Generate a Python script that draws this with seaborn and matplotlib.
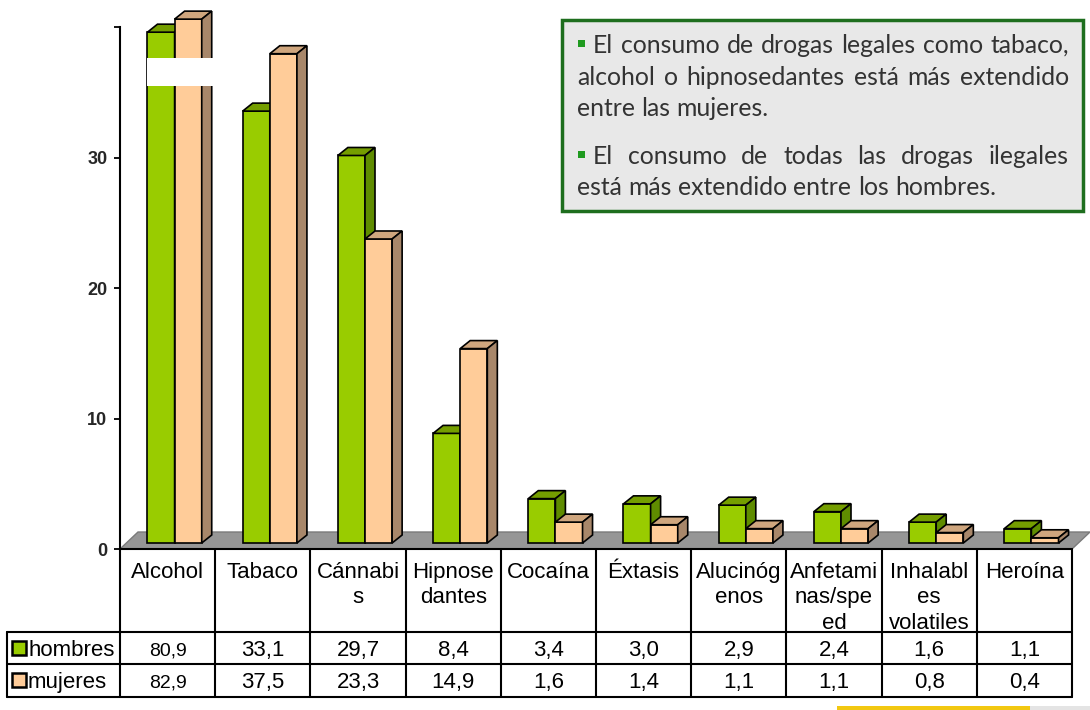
import matplotlib
matplotlib.use("Agg")
import matplotlib.pyplot as plt
import matplotlib.transforms as mtransforms
from matplotlib.patches import Polygon, Rectangle
from matplotlib.lines import Line2D
import pandas as pd
import seaborn as sns

sustancias = ["Alcohol", "Tabaco", "Cánnabis", "Hipnosedantes", "Cocaína", "Éxtasis",
              "Alucinógenos", "Anfetaminas/speed", "Inhalables volatiles", "Heroína"]
etiquetas = ["Alcohol", "Tabaco", "Cánnabi\ns", "Hipnose\ndantes", "Cocaína", "Éxtasis",
             "Alucinóg\nenos", "Anfetami\nnas/spe\ned", "Inhalabl\nes\nvolatiles", "Heroína"]
sexos = ["hombres", "mujeres"]
hombres = [80.9, 33.1, 29.7, 8.4, 3.4, 3.0, 2.9, 2.4, 1.6, 1.1]
mujeres = [82.9, 37.5, 23.3, 14.9, 1.6, 1.4, 1.1, 1.1, 0.8, 0.4]
yticks = [0, 10, 20, 30, 40]
ytick_labels = ["0", "10", "20", "30", ""]

parrafos = [
    ["El consumo de drogas legales como tabaco,",
     "alcohol o hipnosedantes está más extendido",
     "entre las mujeres."],
    ["El consumo de todas las drogas ilegales",
     "está más extendido entre los hombres."],
]

frente = {"hombres": "#99cc00", "mujeres": "#ffcc99"}
arriba = {"hombres": "#759e00", "mujeres": "#cfa67e"}
lado = {"hombres": "#5f8c00", "mujeres": "#a8876a"}


def altura(v):
    # eje cortado: lo que pasa de 40 se comprime
    return v if v <= 40 else 38.7 + (v - 80) * 0.5


def fmt(v):
    return f"{v:.1f}".replace(".", ",")


df = pd.DataFrame({
    "sustancia": sustancias * 2,
    "sexo": ["hombres"] * len(hombres) + ["mujeres"] * len(mujeres),
    "valor": hombres + mujeres,
})
df["altura"] = df["valor"].map(altura)

sns.set_theme(style="white")
plt.rcParams["font.family"] = ["Liberation Sans", "DejaVu Sans"]

W, H = 1090, 710
fig = plt.figure(figsize=(W / 100, H / 100), dpi=100)
ax = fig.add_axes([120 / W, 1 - 549 / H, 952 / W, 548 / H])


def fx(px):
    return px / W


def fy(px):
    return 1 - px / H


sns.barplot(data=df, x="sustancia", y="altura", hue="sexo", hue_order=sexos,
            palette=frente, width=0.57, saturation=1, legend=False,
            edgecolor="black", linewidth=1.2, ax=ax)
ax.set_xlim(-0.5, 9.5)
ax.set_ylim(0, 42)

sx = 952 / 10
sy = 548 / 42

# suelo gris
fdx, fdy = 18 / sx, 17 / sy
ax.add_patch(Polygon([(-0.5, 0), (9.5, 0), (9.5 + fdx, fdy), (-0.5 + fdx, fdy)],
                     closed=True, fc="#969696", ec="#7a7a7a", lw=1, zorder=1, clip_on=False))

# barras en 3D
tr = ax.transData + mtransforms.ScaledTranslation(7 / 100, 6 / 100, fig.dpi_scale_trans)
dx, dy = 10 / sx, 8 / sy
n = len(sustancias)
barras = [p for p in ax.patches if isinstance(p, Rectangle)][:2 * n]
for i, p in enumerate(barras):
    g = sexos[i // n]
    x0, w, h = p.get_x(), p.get_width(), p.get_height()
    z = 3 + i // n
    p.set_transform(tr)
    p.set_clip_on(False)
    p.set_zorder(z)
    ax.add_patch(Polygon([(x0, h), (x0 + dx, h + dy), (x0 + w + dx, h + dy), (x0 + w, h)],
                         closed=True, fc=arriba[g], ec="black", lw=1.2,
                         transform=tr, zorder=z, clip_on=False))
    ax.add_patch(Polygon([(x0 + w, 0), (x0 + w, h), (x0 + w + dx, h + dy), (x0 + w + dx, dy)],
                         closed=True, fc=lado[g], ec="black", lw=1.2,
                         transform=tr, zorder=z, clip_on=False))

# corte del eje en Alcohol
b0 = barras[0]
ax.add_patch(Rectangle((b0.get_x() - 0.005, 35.0), 2 * b0.get_width() + dx + 0.02, 2.2,
                       fc="white", ec="none", transform=tr, zorder=6, clip_on=False))

# eje y
ax.set_yticks(yticks, ytick_labels)
ax.set_xticks([])
ax.set_xlabel("")
ax.set_ylabel("")
ax.tick_params(axis="y", direction="out", length=4, width=1.3, pad=5,
               left=True, color="black", labelsize=13)
for lbl in ax.get_yticklabels():
    lbl.set_fontweight("bold")
    lbl.set_fontsize(13)
for s in ["top", "right", "bottom"]:
    ax.spines[s].set_visible(False)
ax.spines["left"].set_bounds(0, 40)
ax.spines["left"].set_linewidth(1.5)
ax.spines["left"].set_color("black")

# tabla de datos
tb = mtransforms.blended_transform_factory(ax.transData, fig.transFigure)
lk = dict(color="black", lw=1.5)
for k in range(n + 1):
    fig.add_artist(Line2D([k - 0.5, k - 0.5], [fy(549), fy(697)], transform=tb, **lk))
fig.add_artist(Line2D([-0.5, 9.5], [fy(549), fy(549)], transform=tb, **lk))
for ypx in [632, 664, 697]:
    fig.add_artist(Line2D([fx(7), fx(1072)], [fy(ypx), fy(ypx)], transform=fig.transFigure, **lk))
fig.add_artist(Line2D([fx(7), fx(7)], [fy(632), fy(697)], transform=fig.transFigure, **lk))

for k, et in enumerate(etiquetas):
    fig.text(k, fy(562), et, transform=tb, ha="center", va="top",
             fontsize=16, linespacing=1.28, color="black")

for j, (g, vals) in enumerate(zip(sexos, [hombres, mujeres])):
    base = [656, 688][j]
    for k, v in enumerate(vals):
        fig.text(k, fy(base), fmt(v), transform=tb, ha="center", va="baseline",
                 fontsize=14 if k == 0 else 16, color="black")
    fig.add_artist(Rectangle((fx(12), fy(base - 1)), 14 / W, 14 / H, transform=fig.transFigure,
                             fc=frente[g], ec="black", lw=1.8))
    fig.text(fx(28), fy(base), g, ha="left", va="baseline", fontsize=16, color="black")

# cuadro de texto
fig.add_artist(Rectangle((fx(562), fy(211)), 521 / W, 191 / H, transform=fig.transFigure,
                         fc="#e8e8e8", ec="#1e6e1e", lw=2.5))

renderer = fig.canvas.get_renderer()
fam = ["Lato", "DejaVu Sans"]
fs = 17.8
tk = dict(fontsize=fs, family=fam, color="#333333", va="baseline", ha="left")
t1 = fig.text(0, 0, "xx", **tk)
t2 = fig.text(0, 0, "x x", **tk)
espacio = t2.get_window_extent(renderer).width - t1.get_window_extent(renderer).width
t1.remove()
t2.remove()

bases = [[53, 85, 116], [164, 195]]
for par, ys in zip(parrafos, bases):
    for li, (txt, yb) in enumerate(zip(par, ys)):
        x0 = 593 if li == 0 else 577
        if li == 0:
            fig.add_artist(Rectangle((fx(578), fy(yb - 6)), 7 / W, 7 / H,
                                     transform=fig.transFigure, fc="#1f9a1f", ec="none"))
        palabras = txt.split()
        arts = [fig.text(0, fy(yb), p, **tk) for p in palabras]
        anchos = [a.get_window_extent(renderer).width for a in arts]
        if li < len(par) - 1:
            hueco = (1069 - x0 - sum(anchos)) / (len(palabras) - 1)
        else:
            hueco = espacio
        x = x0
        for a, wd in zip(arts, anchos):
            a.set_x(fx(x))
            x += wd + hueco

# linea decorativa inferior
fig.add_artist(Rectangle((fx(837), 0), 193 / W, 4 / H, transform=fig.transFigure,
                         fc="#f2c811", ec="none"))
fig.add_artist(Rectangle((fx(1030), 0), 60 / W, 4 / H, transform=fig.transFigure,
                         fc="#e4e4e4", ec="none"))

fig.savefig("out.png", dpi=100)
